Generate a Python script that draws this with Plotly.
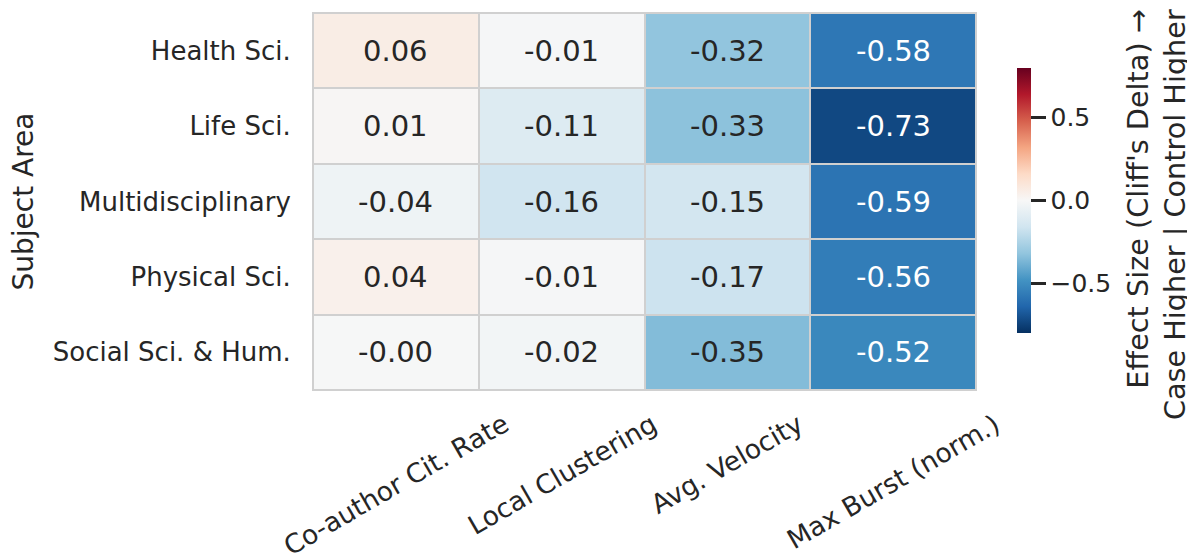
import plotly.graph_objects as go

# ---- data ----
areas = ["Health Sci.", "Life Sci.", "Multidisciplinary", "Physical Sci.", "Social Sci. & Hum."]
metrics = ["Co-author Cit. Rate", "Local Clustering", "Avg. Velocity", "Max Burst (norm.)"]
coauthor_cit_rate = [0.06, 0.01, -0.04, 0.04, -0.003]
local_clustering = [-0.01, -0.11, -0.16, -0.01, -0.02]
avg_velocity = [-0.32, -0.33, -0.15, -0.17, -0.35]
max_burst = [-0.58, -0.73, -0.59, -0.56, -0.52]
cbar_ticks = [-0.5, 0.0, 0.5]

cols = [coauthor_cit_rate, local_clustering, avg_velocity, max_burst]
z = [[c[i] for c in cols] for i in range(len(areas))]

FONT = "DejaVu Sans"
DARK = "#262626"

rdbu = ['rgb(5,48,97)', 'rgb(33,102,172)', 'rgb(67,147,195)', 'rgb(146,197,222)',
        'rgb(209,229,240)', 'rgb(247,247,247)', 'rgb(253,219,199)', 'rgb(244,165,130)',
        'rgb(214,96,77)', 'rgb(178,24,43)', 'rgb(103,0,31)']
colorscale = [[i / (len(rdbu) - 1), c] for i, c in enumerate(rdbu)]

fig = go.Figure(go.Heatmap(
    z=z, x=metrics, y=areas,
    colorscale=colorscale, zmin=-0.8, zmax=0.8,
    xgap=2, ygap=2,
    hoverongaps=False,
    colorbar=dict(
        thickness=14, thicknessmode="pixels",
        len=265, lenmode="pixels",
        x=1.0618, xanchor="left", y=0.5027, yanchor="middle",
        xpad=0, ypad=0,
        outlinewidth=0,
        tickvals=cbar_ticks, tickformat=".1f",
        ticks="outside", ticklen=15, tickwidth=2.5, tickcolor=DARK,
        tickfont=dict(family=FONT, size=25, color=DARK),
    ),
))

annotations = []
for i, a in enumerate(areas):
    for j, m in enumerate(metrics):
        v = z[i][j]
        annotations.append(dict(
            x=m, y=a, xref="x", yref="y", text=f"{v:.2f}", showarrow=False,
            font=dict(family=FONT, size=29, color="white" if abs(v) > 0.45 else DARK),
        ))
for m in metrics:
    annotations.append(dict(
        x=m, y=-0.04, xref="x", yref="paper", text=m, showarrow=False,
        textangle=-30, xanchor="center", yanchor="top",
        font=dict(family=FONT, size=26.5, color=DARK),
    ))
annotations.append(dict(
    x=1.2715, y=0.464, xref="paper", yref="paper",
    text="Effect Size (Cliff's Delta) →<br>Case Higher | Control Higher",
    showarrow=False, textangle=-90, xanchor="center", yanchor="middle", align="right",
    font=dict(family=FONT, size=28.7, color=DARK),
))

fig.update_layout(
    width=1187, height=554,
    margin=dict(l=313, r=211, t=13, b=164, autoexpand=False),
    paper_bgcolor="white", plot_bgcolor="#d0d0d0",
    font=dict(family=FONT, color=DARK),
    annotations=annotations,
)
fig.update_xaxes(range=[-0.5, len(metrics) - 0.5], autorange=False,
                 showticklabels=False, ticks="", showgrid=False, zeroline=False,
                 showline=True, mirror=True, linecolor="#d0d0d0", linewidth=1)
fig.update_yaxes(range=[len(areas) - 0.5, -0.5], autorange=False,
                 ticks="", showgrid=False, zeroline=False,
                 showline=True, mirror=True, linecolor="#d0d0d0", linewidth=1,
                 ticklabelstandoff=16,
                 tickfont=dict(family=FONT, size=26, color=DARK),
                 title=dict(text="Subject Area", standoff=10,
                            font=dict(family=FONT, size=28, color=DARK)))

fig.write_html("out.html",
               config={"displayModeBar": False},
               post_script="document.body.style.margin='0px';document.body.style.overflow='hidden';")
